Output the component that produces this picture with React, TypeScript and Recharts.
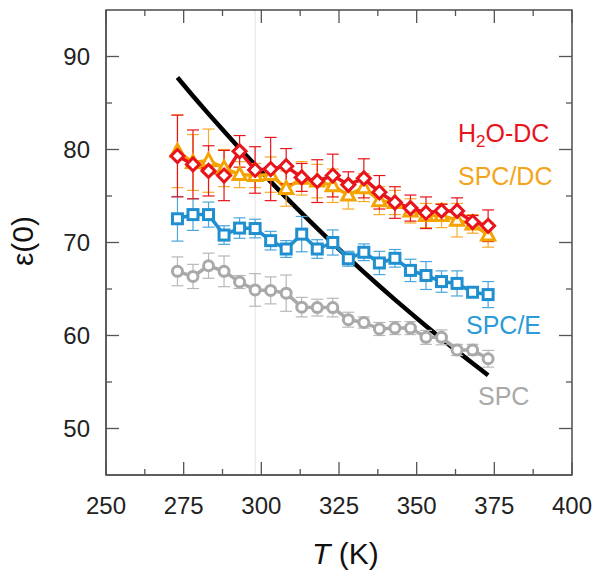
import React from 'react';
import { LineChart, Line, XAxis, YAxis, ErrorBar, ReferenceLine } from 'recharts';

// temperature grid (K)
const temps = [273, 278, 283, 288, 293, 298, 303, 308, 313, 318, 323, 328, 333, 338, 343, 348, 353, 358, 363, 368, 373];

// experiment (black curve)
const expt = [87.74, 85.76, 83.83, 81.95, 80.1, 78.36, 76.55, 74.83, 73.15, 71.51, 69.91, 68.35, 66.82, 65.32, 63.86, 62.43, 61.03, 59.66, 58.32, 57.01, 55.72];

const h2oDc = [79.3, 78.4, 77.7, 77.2, 79.8, 77.8, 77.9, 78.2, 77.0, 76.6, 77.2, 76.2, 76.9, 75.4, 74.3, 73.7, 73.2, 73.4, 73.4, 72.2, 71.8];
const h2oDcErr = [4.4, 3.7, 2.7, 2.7, 1.7, 2.5, 3.4, 1.9, 1.5, 2.3, 2.3, 1.4, 2.1, 1.8, 1.7, 1.4, 1.7, 0.7, 1.4, 0.7, 1.7];

const spcDc = [79.8, 78.6, 78.8, 78.0, 77.3, 77.2, 77.3, 75.8, 76.9, 76.6, 76.1, 75.1, 75.9, 74.5, 74.3, 73.4, 72.9, 72.9, 72.4, 72.0, 70.8];
const spcDcErr = [3.9, 3.0, 3.4, 2.0, 1.4, 1.3, 1.9, 1.9, 1.8, 1.8, 1.8, 1.5, 1.5, 1.5, 1.3, 1.3, 1.3, 1.3, 1.8, 1.0, 1.3];

const spcE = [72.55, 73.0, 73.0, 70.8, 71.55, 71.5, 70.2, 69.3, 70.9, 69.3, 70.0, 68.25, 68.95, 67.8, 68.3, 67.0, 66.45, 65.8, 65.6, 64.65, 64.4];
const spcEErr = [2.4, 1.7, 1.35, 1.0, 1.1, 1.0, 1.0, 0.9, 1.9, 1.0, 1.35, 0.8, 0.9, 1.25, 0.95, 1.2, 1.5, 1.15, 1.35, 0.5, 1.4];

const spc = [66.9, 66.35, 67.5, 66.9, 65.75, 64.9, 64.85, 64.55, 63.05, 63.0, 63.0, 61.7, 61.4, 60.7, 60.8, 60.8, 59.8, 59.8, 58.45, 58.45, 57.5];
const spcErr = [1.55, 1.3, 1.35, 1.65, 0.7, 1.75, 1.45, 1.95, 1.05, 0.9, 1.0, 0.8, 0.6, 0.7, 0.7, 0.7, 0.75, 0.8, 0.6, 0.6, 0.9];

// labelled (major) and unlabelled (minor) tick positions
const xMajor = [250, 275, 300, 325, 350, 375, 400];
const xMinor = [262.5, 287.5, 312.5, 337.5, 362.5, 387.5];
const yMajor = [50, 60, 70, 80, 90];
const yMinor = [55, 65, 75, 85];

const xTicks = [...xMajor, ...xMinor].sort((a, b) => a - b);
const yTicks = [...yMajor, ...yMinor].sort((a, b) => a - b);

const X_DOMAIN = [250, 400];
const Y_DOMAIN = [45, 95];

const data = temps.map((t, i) => ({
  t,
  expt: expt[i],
  h2oDc: h2oDc[i], h2oDcErr: h2oDcErr[i],
  spcDc: spcDc[i], spcDcErr: spcDcErr[i],
  spcE: spcE[i], spcEErr: spcEErr[i],
  spc: spc[i], spcErr: spcErr[i],
}));

const RED = '#e8141b';
const ORANGE = '#f5a300';
const BLUE = '#1f8fd0';
const GRAY = '#a9a9a9';
const FRAME = '#555';
const FONT = '"Liberation Sans", Arial, sans-serif';
const MAJ = 13;
const MIN = 6;
const X_MARGIN = 22;
const Y_MARGIN = 16;

// chart layout
const W = 600;
const H = 575;
const MARGIN = { top: 10, right: 28, bottom: 40, left: 46 };
const X_AXIS_H = 60;
const Y_AXIS_W = 60;
const PLOT_X = MARGIN.left + Y_AXIS_W;
const PLOT_Y = MARGIN.top;
const PLOT_W = W - MARGIN.left - MARGIN.right - Y_AXIS_W;
const PLOT_H = H - MARGIN.top - MARGIN.bottom - X_AXIS_H;

// same linear mapping the chart axes use, for the mirrored frame ticks
const sx = (v: number) => PLOT_X + ((v - X_DOMAIN[0]) / (X_DOMAIN[1] - X_DOMAIN[0])) * PLOT_W;
const sy = (v: number) => PLOT_Y + ((Y_DOMAIN[1] - v) / (Y_DOMAIN[1] - Y_DOMAIN[0])) * PLOT_H;

const diamond = (color: string) => (p: any) => {
  const { cx, cy, index } = p;
  const s = 6.5;
  return <path key={`dm${index}`} d={`M${cx},${cy - s}L${cx + s},${cy}L${cx},${cy + s}L${cx - s},${cy}Z`} fill="#fff" stroke={color} strokeWidth={3} />;
};
const triangle = (color: string) => (p: any) => {
  const { cx, cy, index } = p;
  return <path key={`tr${index}`} d={`M${cx},${cy - 7}L${cx + 6.5},${cy + 5}L${cx - 6.5},${cy + 5}Z`} fill="#fff" stroke={color} strokeWidth={3} />;
};
const square = (color: string) => (p: any) => {
  const { cx, cy, index } = p;
  return <rect key={`sq${index}`} x={cx - 5} y={cy - 5} width={10} height={10} fill="#fff" stroke={color} strokeWidth={3} />;
};
const circle = (color: string) => (p: any) => {
  const { cx, cy, index } = p;
  return <circle key={`ci${index}`} cx={cx} cy={cy} r={5} fill="#fff" stroke={color} strokeWidth={3} />;
};

// bottom axis: label + inward tick
const BottomTick = (p: any) => {
  const { x, y, payload } = p;
  const major = xMajor.includes(payload.value);
  const y0 = y - X_MARGIN;
  return (
    <g>
      <line x1={x} x2={x} y1={y0} y2={y0 - (major ? MAJ : MIN)} stroke={FRAME} strokeWidth={1.3} />
      {major && <text x={x} y={y} dy="0.71em" textAnchor="middle" fill="#222" fontSize={24} fontFamily={FONT}>{payload.value}</text>}
    </g>
  );
};
// left axis: label + inward tick
const LeftTick = (p: any) => {
  const { x, y, payload } = p;
  const major = yMajor.includes(payload.value);
  const x0 = x + Y_MARGIN;
  return (
    <g>
      <line x1={x0} x2={x0 + (major ? MAJ : MIN)} y1={y} y2={y} stroke={FRAME} strokeWidth={1.3} />
      {major && <text x={x} y={y} dy="0.355em" textAnchor="end" fill="#222" fontSize={24} fontFamily={FONT}>{payload.value}</text>}
    </g>
  );
};

const frameLine = { stroke: FRAME, strokeWidth: 1.5 };

export default function App() {
  return (
    <div style={{ position: 'absolute', left: 0, top: 0, width: W, height: H, background: '#fff', fontFamily: FONT }}>
      <LineChart width={W} height={H} data={data} margin={MARGIN}>
        <XAxis xAxisId="x" type="number" dataKey="t" domain={X_DOMAIN} ticks={xTicks} interval={0} allowDataOverflow
          height={X_AXIS_H} tickLine={false} tickSize={0} tickMargin={X_MARGIN} axisLine={frameLine} tick={<BottomTick />} />
        <YAxis yAxisId="y" type="number" domain={Y_DOMAIN} ticks={yTicks} interval={0} allowDataOverflow
          width={Y_AXIS_W} tickLine={false} tickSize={0} tickMargin={Y_MARGIN} axisLine={frameLine} tick={<LeftTick />} />

        <ReferenceLine xAxisId="x" yAxisId="y" x={298} stroke="#e2e2e2" strokeWidth={1} />

        <Line xAxisId="x" yAxisId="y" dataKey="expt" stroke="#000" strokeWidth={4.5} dot={false} isAnimationActive={false} type="linear" />

        <Line xAxisId="x" yAxisId="y" dataKey="spc" stroke={GRAY} strokeWidth={3.5} dot={circle(GRAY)} isAnimationActive={false} type="linear">
          <ErrorBar dataKey="spcErr" width={6} strokeWidth={1.2} stroke="#b8b8b8" direction="y" />
        </Line>
        <Line xAxisId="x" yAxisId="y" dataKey="spcE" stroke={BLUE} strokeWidth={3.5} dot={square(BLUE)} isAnimationActive={false} type="linear">
          <ErrorBar dataKey="spcEErr" width={6} strokeWidth={1.2} stroke="#4aa6dc" direction="y" />
        </Line>
        <Line xAxisId="x" yAxisId="y" dataKey="spcDc" stroke={ORANGE} strokeWidth={3.5} dot={triangle(ORANGE)} isAnimationActive={false} type="linear">
          <ErrorBar dataKey="spcDcErr" width={6} strokeWidth={1.2} stroke="#f6ab2a" direction="y" />
        </Line>
        <Line xAxisId="x" yAxisId="y" dataKey="h2oDc" stroke={RED} strokeWidth={3.5} dot={diamond(RED)} isAnimationActive={false} type="linear">
          <ErrorBar dataKey="h2oDcErr" width={6} strokeWidth={1.2} stroke={RED} direction="y" />
        </Line>
      </LineChart>

      <svg width={W} height={H} viewBox={`0 0 ${W} ${H}`} style={{ position: 'absolute', left: 0, top: 0, pointerEvents: 'none', overflow: 'visible' }} fontFamily={FONT}>
        {/* full plot frame with inward ticks on top and right */}
        <rect x={PLOT_X} y={PLOT_Y} width={PLOT_W} height={PLOT_H} fill="none" stroke={FRAME} strokeWidth={1.6} />
        {xTicks.map((v) => (
          <line key={`tx${v}`} x1={sx(v)} x2={sx(v)} y1={PLOT_Y} y2={PLOT_Y + (xMajor.includes(v) ? MAJ : MIN)} stroke={FRAME} strokeWidth={1.3} />
        ))}
        {yTicks.map((v) => (
          <line key={`ry${v}`} x1={PLOT_X + PLOT_W} x2={PLOT_X + PLOT_W - (yMajor.includes(v) ? MAJ : MIN)} y1={sy(v)} y2={sy(v)} stroke={FRAME} strokeWidth={1.3} />
        ))}

        <text x={458} y={142} fill={RED} fontSize={25}>
          H<tspan fontSize={17} dy={5}>2</tspan><tspan dy={-5}>O-DC</tspan>
        </text>
        <text x={458} y={185} fill="#f4a41c" fontSize={25}>SPC/DC</text>
        <text x={466} y={334} fill="#2b9ad8" fontSize={25}>SPC/E</text>
        <text x={478} y={405} fill={GRAY} fontSize={25}>SPC</text>
        <text x={312} y={564} fill="#111" fontSize={30}>
          <tspan fontStyle="italic">T</tspan> (K)
        </text>
        <text x={33} y={241} fill="#111" fontSize={30} textAnchor="middle" transform="rotate(-90, 33, 241)">ε(0)</text>
      </svg>
    </div>
  );
}
